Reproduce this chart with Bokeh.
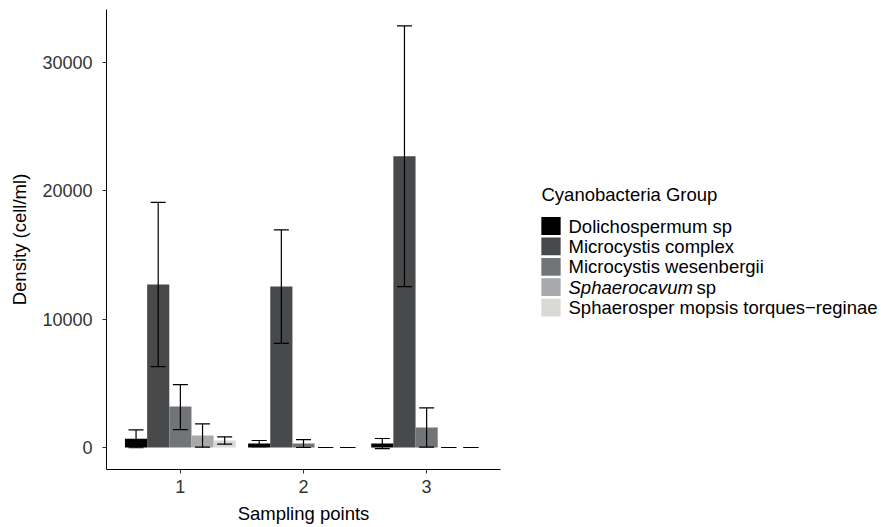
from bokeh.plotting import figure
from bokeh.models import Range1d, FixedTicker, Whisker, TeeHead, ColumnDataSource
from bokeh.layouts import row
from bokeh.embed import file_html
from bokeh.resources import INLINE
from bokeh.core.properties import value

# ---------------- data ----------------
points = [1, 2, 3]
point_labels = ["1", "2", "3"]
species = ["Dolichospermum sp", "Microcystis complex", "Microcystis wesenbergii",
           "Sphaerocavum sp", "Sphaerosper mopsis torques\u2212reginae"]
colors = ["#000000", "#48494B", "#727477", "#A7A9AA", "#D9DAD8"]

dolichospermum = [680, 310, 310]
microcystis_complex = [12700, 12540, 22700]
microcystis_wesenbergii = [3190, 310, 1560]
sphaerocavum = [935, 0, 0]
sphaerospermopsis = [545, 0, 0]

dolichospermum_lower = [-20, 75, -80]
dolichospermum_upper = [1380, 545, 700]
microcystis_complex_lower = [6300, 8120, 12540]
microcystis_complex_upper = [19100, 16960, 32850]
microcystis_wesenbergii_lower = [1400, 0, 30]
microcystis_wesenbergii_upper = [4900, 620, 3090]
sphaerocavum_lower = [25, 0, 0]
sphaerocavum_upper = [1845, 0, 0]
sphaerospermopsis_lower = [260, 0, 0]
sphaerospermopsis_upper = [830, 0, 0]

y_ticks = [0, 10000, 20000, 30000]

means = [dolichospermum, microcystis_complex, microcystis_wesenbergii, sphaerocavum, sphaerospermopsis]
lowers = [dolichospermum_lower, microcystis_complex_lower, microcystis_wesenbergii_lower,
          sphaerocavum_lower, sphaerospermopsis_lower]
uppers = [dolichospermum_upper, microcystis_complex_upper, microcystis_wesenbergii_upper,
          sphaerocavum_upper, sphaerospermopsis_upper]

FONT = "Liberation Sans"
bar_w = 0.9 / len(species)

W, H = 881, 527
MAIN_W = 520
TOP, BOTTOM = 9, 58

# ---------------- main plot ----------------
p = figure(width=MAIN_W, height=H, x_range=Range1d(0.4, 3.6), y_range=Range1d(-1714, 34130),
           output_backend="svg", toolbar_location=None,
           min_border_left=106, min_border_right=20, min_border_top=TOP, min_border_bottom=BOTTOM)
p.outline_line_color = None
p.xgrid.visible = False
p.ygrid.visible = False

for j, (m, lo, up) in enumerate(zip(means, lowers, uppers)):
    off = (j - (len(species) - 1) / 2) * bar_w
    xs = [x + off for x in points]
    src = ColumnDataSource(dict(x=xs, top=m, lower=lo, upper=up))
    p.vbar(x="x", top="top", bottom=0, width=bar_w, source=src,
           fill_color=colors[j], line_color=None)
    w = Whisker(base="x", upper="upper", lower="lower", source=src,
                line_color="black", line_width=1.2, level="annotation",
                upper_head=TeeHead(size=15, line_color="black", line_width=1.2),
                lower_head=TeeHead(size=15, line_color="black", line_width=1.2))
    p.add_layout(w)

p.xaxis.ticker = FixedTicker(ticks=points)
p.xaxis.major_label_overrides = dict(zip(points, point_labels))
p.yaxis.ticker = FixedTicker(ticks=y_ticks)

for ax in (p.xaxis[0], p.yaxis[0]):
    ax.axis_line_color = "black"
    ax.axis_line_width = 1
    ax.major_tick_in = 0
    ax.major_tick_out = 4
    ax.major_tick_line_color = "#333333"
    ax.minor_tick_line_color = None
    ax.major_label_text_font = FONT
    ax.major_label_text_font_size = "18px"
    ax.major_label_text_color = "#333333"
    ax.axis_label_text_font = FONT
    ax.axis_label_text_font_size = "18.5px"
    ax.axis_label_text_font_style = "normal"
    ax.axis_label_text_color = "black"

p.xaxis.axis_label = "Sampling points"
p.yaxis.axis_label = "Density (cell/ml)"
p.xaxis.major_label_standoff = 6
p.xaxis.axis_label_standoff = 7
p.yaxis.major_label_standoff = 10
p.yaxis.axis_label_standoff = 9

# ---------------- legend panel (coordinates in page pixels) ----------------
lw = W - MAIN_W
lf = figure(width=lw, height=H, x_range=Range1d(MAIN_W, W), y_range=Range1d(H - BOTTOM, TOP),
            output_backend="svg", toolbar_location=None, x_axis_type=None, y_axis_type=None,
            min_border_left=0, min_border_right=0, min_border_top=TOP, min_border_bottom=BOTTOM)
lf.outline_line_color = None
lf.xgrid.visible = False
lf.ygrid.visible = False

legend_title = "Cyanobacteria Group"
legend_parts = [[(species[0], "normal")],
                [(species[1], "normal")],
                [(species[2], "normal")],
                [("Sphaerocavum", "italic"), ("sp", "normal")],
                [(species[4], "normal")]]

lf.text(x=[541], y=[194], text=[legend_title], text_font=value(FONT), text_font_size="18.5px",
        text_baseline="middle", text_align="left", text_color="black")

key_x, key_y0, key_step = 550.5, 225.5, 20.4
lf.rect(x=[key_x] * len(species), y=[key_y0 + i * key_step for i in range(len(species))],
        width=19.3, height=17.8, fill_color=colors, line_color=None)

label_x = 568
part_gap = 128
for i, parts in enumerate(legend_parts):
    x = label_x
    for txt, style in parts:
        lf.text(x=[x], y=[key_y0 + i * key_step], text=[txt], text_font=value(FONT),
                text_font_size="18.5px", text_font_style=style,
                text_baseline="middle", text_align="left", text_color="black")
        x += part_gap

layout = row(p, lf)
open("out.html", "w").write(file_html(layout, INLINE))
